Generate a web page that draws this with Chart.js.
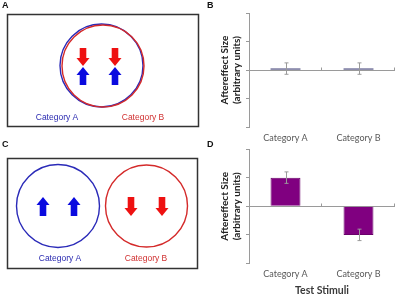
<html>
<head>
<script src="https://cdn.jsdelivr.net/npm/chart.js"></script>
<style>
  body { margin: 0; width: 400px; height: 295px; overflow: hidden; background: #fff; position: relative; }
  canvas { position: absolute; }
</style>
</head>
<body>
<canvas id="diagram" width="400" height="295" style="left:0;top:0"></canvas>
<canvas id="chartB" width="200" height="145" style="left:200px;top:0"></canvas>
<canvas id="chartD" width="200" height="152" style="left:200px;top:145px"></canvas>
<script>
  // data (arbitrary units)
  const categories = ["Category A", "Category B"];
  const yRange = [-2, 2];
  const valuesB = [0.05, 0.05];
  const errorsB = [0.2, 0.2];
  const valuesD = [1.0, -1.0];
  const errorsD = [0.2, 0.2];

  const GRAY = "#9a9a9a";

  // ---- panels A and C : stimulus diagrams ----
  const dc = document.getElementById("diagram").getContext("2d");

  function blockArrow(ctx, cx, fromY, tipY, color) {
    const dir = tipY > fromY ? 1 : -1;
    const head = 8, hw = 6.5, sw = 3.3;
    const hy = tipY - dir * head;
    ctx.fillStyle = color;
    ctx.beginPath();
    ctx.moveTo(cx - sw, fromY);
    ctx.lineTo(cx + sw, fromY);
    ctx.lineTo(cx + sw, hy);
    ctx.lineTo(cx + hw, hy);
    ctx.lineTo(cx, tipY);
    ctx.lineTo(cx - hw, hy);
    ctx.lineTo(cx - sw, hy);
    ctx.closePath();
    ctx.fill();
  }
  function circle(ctx, x, y, r, color) {
    ctx.strokeStyle = color;
    ctx.lineWidth = 1.4;
    ctx.beginPath();
    ctx.arc(x, y, r, 0, Math.PI * 2);
    ctx.stroke();
  }
  function label(ctx, text, x, y, color) {
    ctx.fillStyle = color;
    ctx.font = "8.5px 'Liberation Sans', Arial, sans-serif";
    ctx.textAlign = "center";
    ctx.textBaseline = "middle";
    ctx.fillText(text, x, y);
  }
  function letter(ctx, t, x, y) {
    ctx.fillStyle = "#111";
    ctx.font = "bold 9px 'Liberation Sans', Arial, sans-serif";
    ctx.textAlign = "left";
    ctx.textBaseline = "top";
    ctx.fillText(t, x, y);
  }

  const BLUE = "#0a0adf", RED = "#ee1111";
  const BLUE_LINE = "#2a2ab8", RED_LINE = "#d42a2a";

  // A
  dc.strokeStyle = "#333";
  dc.lineWidth = 1.5;
  dc.strokeRect(7.5, 14.5, 191, 112);
  circle(dc, 101.5, 65.5, 41.5, BLUE_LINE);
  circle(dc, 103, 66, 41, RED_LINE);
  [83, 115].forEach(x => {
    blockArrow(dc, x, 48, 66, RED);
    blockArrow(dc, x, 85, 67, BLUE);
  });
  label(dc, "Category A", 57, 118, "#2a2ab0");
  label(dc, "Category B", 143, 118, "#d03030");

  // C
  dc.strokeStyle = "#333";
  dc.lineWidth = 1.5;
  dc.strokeRect(7.5, 158.5, 190, 110);
  circle(dc, 58, 206, 41.5, BLUE_LINE);
  circle(dc, 146.5, 206, 41, RED_LINE);
  [43, 74].forEach(x => blockArrow(dc, x, 216, 197, BLUE));
  [131, 162].forEach(x => blockArrow(dc, x, 197, 216, RED));
  label(dc, "Category A", 60, 259, "#2a2ab0");
  label(dc, "Category B", 146, 259, "#d03030");

  letter(dc, "A", 2, 1);
  letter(dc, "B", 207, 1);
  letter(dc, "C", 2, 140);
  letter(dc, "D", 207, 140);

  // ---- panels B and D : bar charts ----
  const errorBarPlugin = {
    id: "errorBars",
    afterDatasetsDraw(chart, args, opts) {
      const { ctx, scales: { x, y } } = chart;
      const meta = chart.getDatasetMeta(0);
      const vals = chart.data.datasets[0].data;
      ctx.save();
      ctx.strokeStyle = opts.color || GRAY;
      ctx.lineWidth = 1;
      meta.data.forEach((bar, i) => {
        const px = Math.round(bar.x) + 0.5;
        const top = y.getPixelForValue(vals[i] + opts.errors[i]);
        const bot = y.getPixelForValue(vals[i] - opts.errors[i]);
        ctx.beginPath();
        ctx.moveTo(px, top); ctx.lineTo(px, bot);
        ctx.moveTo(px - 2, top); ctx.lineTo(px + 2, top);
        ctx.moveTo(px - 2, bot); ctx.lineTo(px + 2, bot);
        ctx.stroke();
      });
      // small ticks on the zero line between categories
      const zy = Math.round(y.getPixelForValue(0)) + 0.5;
      const step = x.width / categories.length;
      ctx.strokeStyle = GRAY;
      categories.forEach((c, i) => {
        const bx = Math.round(x.getPixelForValue(i) + step / 2) - 0.5;
        ctx.beginPath();
        ctx.moveTo(bx, zy); ctx.lineTo(bx, zy - 3);
        ctx.stroke();
      });
      ctx.restore();
    }
  };

  function makeChart(id, values, errors, fill, edge, bw, area, xTitle) {
    return new Chart(document.getElementById(id), {
      type: "bar",
      data: {
        labels: categories,
        datasets: [{
          data: values,
          backgroundColor: fill,
          borderColor: edge,
          borderWidth: bw,
          barPercentage: 0.41,
          categoryPercentage: 1,
        }],
      },
      options: {
        responsive: false,
        animation: false,
        layout: { padding: { top: area.top, right: area.right, left: 0, bottom: 0 } },
        plugins: {
          legend: { display: false },
          tooltip: { enabled: false },
          errorBars: { errors: errors },
        },
        scales: {
          x: {
            grid: { display: false, drawTicks: false },
            border: { display: false },
            ticks: { color: "#595959", font: { family: "Lato", size: 9 }, padding: area.labelPad, maxRotation: 0 },
            title: {
              display: !!xTitle,
              text: xTitle || "",
              color: "#3a3a3a",
              font: { family: "Lato", size: 10.5, weight: "bold" },
              padding: { top: 0, bottom: 0 },
            },
            afterFit: (s) => { s.height = area.xh; },
          },
          y: {
            min: yRange[0],
            max: yRange[1],
            ticks: { stepSize: 1, display: false },
            border: { color: GRAY },
            grid: {
              color: (c) => (c.tick && c.tick.value === 0 ? GRAY : "rgba(0,0,0,0)"),
              tickColor: GRAY,
              tickLength: 3,
              drawTicks: true,
            },
            title: {
              display: true,
              text: ["Aftereffect Size", "(arbitrary units)"],
              color: "#222",
              font: { family: "'Liberation Sans Narrow', Lato", size: 10, weight: "bold" },
              padding: { top: 19, bottom: 0 },
            },
            afterFit: (s) => { s.width = 49; },
          },
        },
      },
      plugins: [errorBarPlugin],
    });
  }

  makeChart("chartB", valuesB, errorsB, "#1c1c5c", "#1c1c5c", 0,
    { top: 13, right: 5, xh: 18, labelPad: 6 }, null);
  makeChart("chartD", valuesD, errorsD, "#800080", "#6a006a", 1,
    { top: 4, right: 5, xh: 33.5, labelPad: 5 }, "Test Stimuli");
</script>
</body>
</html>
